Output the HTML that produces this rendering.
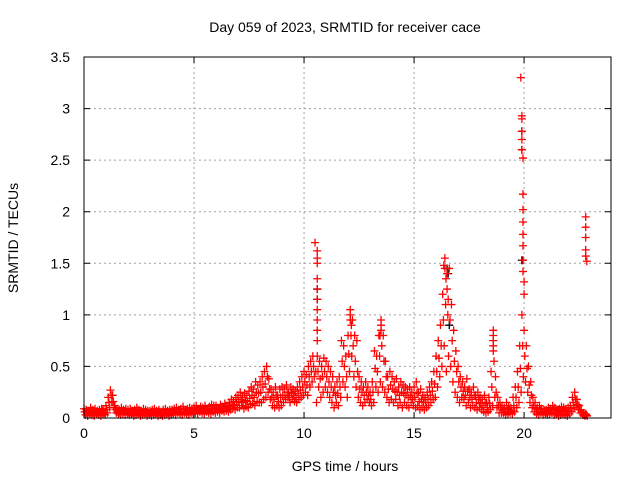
<!DOCTYPE html>
<html><head><meta charset="utf-8"><style>
body{margin:0;background:#fff;}
svg text{font-family:"Liberation Sans",sans-serif;font-size:14px;fill:#000;}
</style></head><body>
<svg id="chart" width="640" height="480" xmlns="http://www.w3.org/2000/svg">
<rect width="640" height="480" fill="#fff"/>
<g id="grid"></g>
<g id="ticks"></g>
<g id="black"></g>
<g id="red"></g>
<rect x="84" y="57" width="527" height="361" fill="none" stroke="#000" stroke-width="1"/>
<text x="345" y="32" text-anchor="middle">Day 059 of 2023, SRMTID for receiver cace</text>
<text x="345" y="471" text-anchor="middle">GPS time / hours</text>
<text x="18" y="238" text-anchor="middle" transform="rotate(-90 18 238)">SRMTID / TECUs</text>
</svg>
<script>
const xTicks=[0,5,10,15,20];
const yTicks=[0,0.5,1,1.5,2,2.5,3,3.5];
const yTickLabels=["0","0.5","1","1.5","2","2.5","3","3.5"];
const tStep=0.1;
const hiVals=[.09,.08,.07,.10,.08,.09,.07,.08,.09,.08,
.12,.20,.27,.22,.12,.09,.08,.10,.08,.09,
.08,.09,.07,.08,.10,.08,.07,.09,.08,.07,
.07,.08,.09,.07,.08,.06,.08,.09,.07,.08,
.08,.09,.10,.08,.09,.11,.08,.09,.10,.09,
.10,.12,.09,.11,.10,.12,.09,.11,.13,.12,
.12,.10,.13,.11,.14,.12,.15,.18,.16,.20,
.22,.25,.20,.24,.22,.26,.30,.28,.35,.32,
.35,.40,.45,.50,.38,.28,.25,.30,.22,.28,
.30,.28,.32,.25,.30,.28,.26,.30,.35,.40,
.45,.42,.50,.55,.60,1.70,.60,.55,.50,.58,
.55,.50,.45,.40,.30,.35,.40,.75,.70,.60,
.80,1.05,.95,.80,.75,.40,.35,.30,.35,.30,
.25,.35,.65,.60,.80,.95,.80,.55,.40,.45,
.40,.35,.38,.30,.35,.32,.30,.28,.30,.25,
.30,.35,.25,.28,.22,.20,.25,.30,.35,.45,
.60,.75,.90,1.20,1.55,1.40,1.45,1.10,.85,.65,
.50,.40,.35,.30,.38,.28,.25,.30,.22,.25,
.20,.18,.22,.15,.20,.45,.85,.40,.20,.15,
.12,.10,.15,.12,.10,.20,.30,.45,.70,1.0,
.85,.70,.50,.35,.20,.15,.10,.12,.09,.08,
.08,.10,.09,.12,.10,.08,.09,.11,.10,.09,
.10,.12,.20,.25,.18,.12,.08,.05,.04];
const midVals=[.06,.05,.06,.07,.05,.06,.05,.06,.07,.05,
.08,.15,.22,.16,.08,.06,.05,.07,.06,.06,
.05,.07,.05,.06,.07,.05,.05,.06,.05,.05,
.05,.06,.06,.05,.06,.04,.05,.06,.05,.06,
.06,.06,.07,.06,.06,.08,.06,.06,.07,.07,
.08,.08,.07,.08,.07,.09,.07,.08,.09,.09,
.09,.08,.10,.09,.10,.09,.11,.13,.12,.15,
.16,.18,.15,.17,.16,.19,.22,.20,.25,.24,
.25,.30,.33,.40,.28,.20,.18,.22,.16,.20,
.22,.22,.25,.20,.24,.22,.20,.24,.27,.30,
.35,.32,.40,.45,.50,.45,.45,.38,.40,.45,
.40,.35,.30,.25,.22,.24,.30,.55,.50,.40,
.62,.80,.70,.55,.45,.28,.25,.22,.25,.22,
.18,.25,.48,.45,.60,.70,.55,.40,.28,.32,
.28,.26,.25,.22,.25,.24,.22,.20,.22,.18,
.20,.24,.16,.18,.15,.15,.18,.22,.26,.33,
.45,.58,.70,.95,1.10,1.00,.95,.75,.55,.45,
.35,.30,.26,.22,.26,.20,.18,.22,.15,.18,
.14,.12,.14,.10,.14,.30,.55,.25,.12,.10,
.08,.06,.09,.08,.07,.12,.20,.30,.48,.70,
.60,.48,.32,.22,.12,.09,.06,.08,.06,.06,
.05,.07,.07,.08,.07,.05,.06,.08,.07,.06,
.07,.09,.15,.18,.13,.08,.05,.03,.03];
const loVals=[.03,.02,.04,.03,.02,.04,.03,.02,.04,.03,
.05,.10,.15,.10,.05,.04,.03,.04,.03,.04,
.03,.04,.02,.03,.04,.02,.03,.04,.02,.03,
.02,.03,.04,.02,.03,.02,.03,.04,.02,.03,
.04,.03,.05,.04,.03,.05,.04,.03,.05,.04,
.05,.04,.06,.05,.04,.06,.05,.04,.06,.05,
.06,.05,.07,.06,.07,.06,.08,.09,.08,.10,
.10,.12,.09,.11,.10,.13,.14,.12,.16,.15,
.15,.18,.20,.25,.18,.12,.10,.12,.10,.12,
.15,.18,.20,.15,.18,.16,.15,.18,.20,.22,
.25,.22,.30,.35,.40,.15,.30,.20,.25,.30,
.25,.20,.15,.10,.15,.12,.20,.35,.30,.20,
.45,.60,.40,.30,.20,.15,.12,.15,.18,.15,
.12,.15,.30,.25,.35,.30,.25,.20,.15,.18,
.15,.18,.12,.15,.10,.15,.12,.10,.15,.12,
.10,.12,.08,.10,.08,.10,.12,.15,.18,.20,
.30,.40,.50,.70,.45,.60,.50,.35,.25,.20,
.15,.20,.18,.12,.15,.10,.12,.10,.08,.10,
.08,.06,.05,.06,.08,.12,.20,.10,.05,.05,
.05,.03,.04,.05,.04,.06,.10,.15,.25,.40,
.35,.25,.15,.10,.06,.04,.03,.05,.03,.04,
.03,.04,.05,.03,.04,.02,.03,.04,.03,.02,
.04,.06,.10,.12,.08,.05,.03,.02,.02];
const spikeT=[10.6,10.6,10.6,10.6,10.6,10.6,10.6,10.6,10.6,10.6,
12.1,12.1,12.15,13.5,13.5,13.45,
16.35,16.4,16.45,16.5,16.55,
18.6,18.6,18.6,18.6,
19.85,19.9,19.9,19.9,19.9,19.9,19.95,19.95,19.95,19.95,19.95,19.95,19.95,19.95,20.0,20.0,
22.8,22.8,22.8,22.8,22.8,22.85];
const spikeV=[1.62,1.55,1.50,1.35,1.25,1.15,1.05,0.95,0.85,0.75,
1.0,0.95,0.9,0.9,0.85,0.8,
1.48,1.45,1.35,1.25,1.15,
0.8,0.75,0.7,0.65,
3.30,2.93,2.90,2.78,2.70,2.60,2.52,2.17,2.02,1.90,1.78,1.67,1.53,1.42,1.32,1.2,
1.95,1.85,1.75,1.63,1.57,1.52];
const blackT=[19.9,19.9,19.9,10.6,10.6,16.5,16.55,16.6];
const blackV=[2.78,2.6,1.53,1.25,1.15,1.45,1.40,0.9];

const X0=84,X1=611,Y0=418,Y1=57,XMAX=23.95,YMAX=3.5;
const xs=t=>X0+(X1-X0)*t/XMAX;
const ys=v=>Y0-(Y0-Y1)*v/YMAX;
const NS="http://www.w3.org/2000/svg";
function mk(tag,attrs,parent){const e=document.createElementNS(NS,tag);for(const k in attrs)e.setAttribute(k,attrs[k]);parent.appendChild(e);return e;}
const grid=document.getElementById('grid'),ticks=document.getElementById('ticks');
xTicks.forEach(t=>{
  const x=xs(t);
  if(t>0){const g=mk('line',{x1:x,x2:x,y1:Y1,y2:Y0,stroke:'#a0a0a0','stroke-dasharray':'2,3'},grid);
  
  }
  const a=mk('path',{d:`M${x},${Y0}v-6M${x},${Y1}v6`,stroke:'#000'},ticks);
  
  
  const l=mk('text',{x:x,y:Y0+20,'text-anchor':'middle'},ticks);l.textContent=t;
  
  
});
yTicks.forEach((v,i)=>{
  const y=ys(v);
  if(v>0&&v<YMAX){const g=mk('line',{x1:X0,x2:X1,y1:y,y2:y,stroke:'#a0a0a0','stroke-dasharray':'2,3'},grid);
  
  }
  const a=mk('path',{d:`M${X0},${y}h6M${X1},${y}h-6`,stroke:'#000'},ticks);
  
  
  const l=mk('text',{x:X0-14,y:y+5,'text-anchor':'end'},ticks);l.textContent=yTickLabels[i];
  
  
});
function plus(t,v,col,parent){
  const x=xs(t),y=ys(v);
  const p=mk('path',{d:`M${x-4},${y}h8M${x},${y-4}v8`,stroke:col,'stroke-width':1.3},parent);
  
  
}
const blk=document.getElementById('black'),red=document.getElementById('red');
blackT.forEach((t,i)=>plus(t,blackV[i],'#000',blk));
hiVals.forEach((v,i)=>plus(i*tStep,v,'#ff0000',red));
midVals.forEach((v,i)=>plus(i*tStep+0.033,v,'#ff0000',red));
loVals.forEach((v,i)=>plus(i*tStep+0.066,v,'#ff0000',red));
spikeT.forEach((t,i)=>plus(t,spikeV[i],'#ff0000',red));
</script>
</body></html>
